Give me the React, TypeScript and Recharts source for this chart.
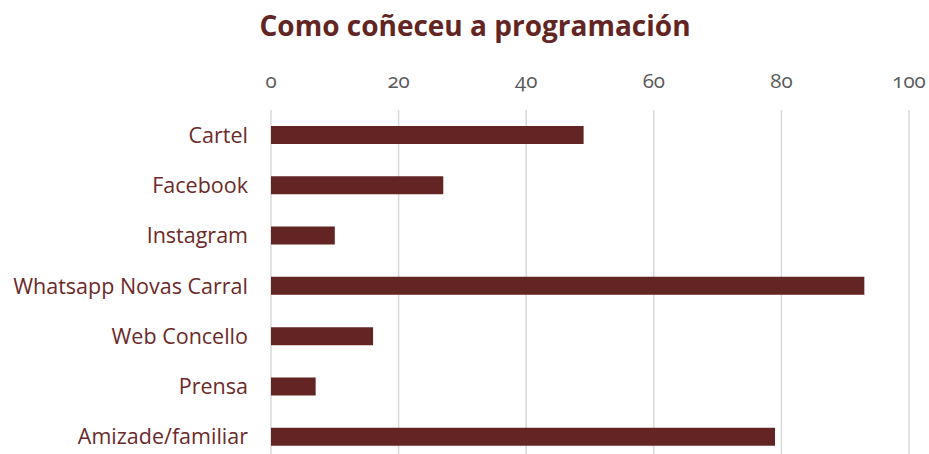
import { BarChart, Bar, XAxis, YAxis, CartesianGrid } from "recharts";

const categories = [
  "Cartel",
  "Facebook",
  "Instagram",
  "Whatsapp Novas Carral",
  "Web Concello",
  "Prensa",
  "Amizade/familiar",
];
const values = [49, 27, 10, 93, 16, 7, 79];
const xTicks = [0, 20, 40, 60, 80, 100];

const data = categories.map((name, i) => ({ name, value: values[i] }));

const maroon = "#632523";
const font = "'Open Sans', Lato, sans-serif";

export default function App() {
  return (
    <div
      style={{
        position: "absolute",
        left: 0,
        top: 0,
        width: 929,
        height: 454,
        overflow: "hidden",
        background: "#fff",
        fontFamily: font,
      }}
    >
      <div
        style={{
          position: "absolute",
          top: 6,
          left: 0,
          width: 929,
          paddingLeft: 21,
          boxSizing: "border-box",
          textAlign: "center",
          fontSize: 28,
          fontWeight: 700,
          color: maroon,
          fontFamily: font,
        }}
      >
        Como coñeceu a programación
      </div>
      <BarChart
        layout="vertical"
        width={929}
        height={462}
        data={data}
        margin={{ top: 80, right: 20, bottom: 0, left: 0 }}
        barCategoryGap={16}
      >
        <CartesianGrid
          horizontal={false}
          stroke="#d9d9d9"
          strokeWidth={1.5}
        />
        <XAxis
          type="number"
          orientation="top"
          domain={[0, 100]}
          ticks={xTicks}
          height={30}
          axisLine={false}
          tickLine={false}
          tickSize={0}
          tickMargin={22}
          tick={{
            fill: "#595959",
            fontSize: 20.5,
            fontFamily: font,
            style: { fontVariantNumeric: "oldstyle-nums" },
          }}
        />
        <YAxis
          type="category"
          dataKey="name"
          width={271}
          axisLine={false}
          tickLine={false}
          tickSize={0}
          tickMargin={23}
          tick={{ fill: "#6b2a29", fontSize: 21.5, fontFamily: font }}
        />
        <Bar
          dataKey="value"
          fill={maroon}
          barSize={18}
          isAnimationActive={false}
        />
      </BarChart>
    </div>
  );
}
